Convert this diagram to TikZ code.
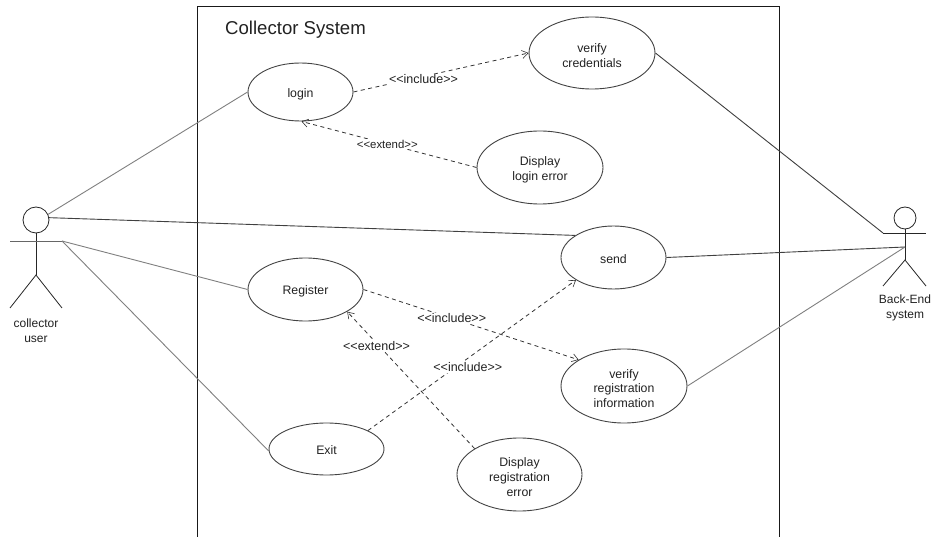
\documentclass[tikz,border=0pt]{standalone}
\usepackage{fontspec}
\setmainfont{Liberation Sans}
\usetikzlibrary{shapes.geometric,arrows.meta}
\definecolor{inkc}{HTML}{222222}
\newcommand{\firstline}{\rule{0pt}{14pt}}
\tikzset{
  usecase/.style={ellipse,draw=inkc!85,line width=0.9pt,fill=white,inner sep=0pt,align=center,font=\fontsize{12.3}{14.7}\selectfont,text=inkc},
  assocdark/.style={draw=black!75,line width=0.9pt},
  assocgray/.style={draw=black!50,line width=0.9pt},
  dep/.style={draw=black!80,dash pattern=on 4pt off 3.5pt,line width=0.8pt,-{Straight Barb[length=6pt,width=8pt,line width=0.6pt]}},
  deplabel/.style={fill=white,inner sep=1pt,font=\fontsize{12.5}{14}\selectfont,text=inkc},
  actorline/.style={draw=black!85,line width=0.8pt},
  actortext/.style={align=center,font=\fontsize{12}{15}\selectfont,text=inkc},
}
\begin{document}
\begin{tikzpicture}[x=1pt,y=-1pt]
\useasboundingbox (0,0) rectangle (935,537);
\fill[white] (0,0) rectangle (935,537);
% system boundary
\draw[black!90,line width=0.8pt] (197,537) -- (197,6.5) -- (779,6.5) -- (779,537);
\node[anchor=center,font=\fontsize{18.6}{20}\selectfont,text=inkc] (title) at (295.5,29.5) {Collector System};
% use cases
\node[usecase,minimum width=105pt,minimum height=58pt] (login) at (300.5,92) {\rule{0pt}{13pt}login};
\node[usecase,minimum width=126pt,minimum height=72pt] (vc) at (592,53) {\firstline verify\\credentials};
\node[usecase,minimum width=126pt,minimum height=73pt] (dle) at (540,167.5) {\firstline Display\\login error};
\node[usecase,minimum width=105pt,minimum height=63pt] (send) at (613.5,257.5) {\rule{0pt}{12.5pt}send};
\node[usecase,minimum width=115pt,minimum height=63pt] (reg) at (305.5,289.5) {\rule{0pt}{12.5pt}Register};
\node[usecase,minimum width=126pt,minimum height=74pt] (vri) at (624,386) {\firstline verify\\registration\\information};
\node[usecase,minimum width=115pt,minimum height=52pt] (exit) at (326.5,449) {\rule{0pt}{10.5pt}Exit};
\node[usecase,minimum width=125pt,minimum height=73pt] (dre) at (519.5,474.5) {\firstline Display\\registration\\error};
% left actor
\node[circle,draw=black!85,line width=0.8pt,minimum size=26pt,inner sep=0pt] (uhead) at (36,220) {};
\coordinate (uarmL) at (10,241);
\coordinate (uarmR) at (62,241);
\coordinate (uhip) at (36,275);
\coordinate (ulegL) at (10,308);
\coordinate (ulegR) at (62,308);
\draw[actorline] (uhead.south) -- (uhip);
\draw[actorline,black!60] (uarmL) -- (uarmR);
\draw[actorline] (ulegL) -- (uhip) -- (ulegR);
\node[actortext] (ulabel) at (36,330.5) {collector\\user};
% right actor
\node[circle,draw=black!85,line width=0.8pt,minimum size=22pt,inner sep=0pt] (bhead) at (905,218) {};
\coordinate (barmL) at (883,233);
\coordinate (barmR) at (926,233);
\coordinate (bhip) at (905,260);
\coordinate (bjoin) at (905,247);
\coordinate (blegL) at (883,286);
\coordinate (blegR) at (926,286);
\draw[actorline] (bhead.south) -- (bhip);
\draw[actorline] (barmL) -- (barmR);
\draw[actorline] (blegL) -- (bhip) -- (blegR);
\node[actortext] (blabel) at (905,308) {Back-End\\system};
% associations
\draw[assocgray] (uhead.25) -- (login.west);
\draw[assocdark] (uhead.10) -- (send.150);
\draw[assocgray] (uarmR) -- (reg.west);
\draw[assocgray] (uarmR) -- (exit.182);
\draw[assocdark] (vc.east) -- (barmL);
\draw[assocdark] (send.east) -- (bjoin);
\draw[assocgray] (vri.east) -- (bjoin);
% dependencies
\draw[dep] (login.east) -- node[deplabel,pos=0.40,yshift=-3pt] (l1) {<{}<include>{}>} (vc.west);
\draw[dep] (dle.west) -- node[deplabel,font=\fontsize{11.4}{13}\selectfont,pos=0.51] (l2) {<{}<extend>{}>} (login.-88);
\draw[dep] (reg.east) -- node[deplabel,pos=0.41] (l3) {<{}<include>{}>} (vri.150.5);
\draw[dep] (dre.150) -- node[deplabel,pos=0.77,yshift=-3pt] (l4) {<{}<extend>{}>} (reg.-28);
\draw[dep] (exit.24.6) -- node[deplabel,pos=0.48,yshift=-9pt] (l5) {<{}<include>{}>} (send.211.4);
\end{tikzpicture}
\end{document}
